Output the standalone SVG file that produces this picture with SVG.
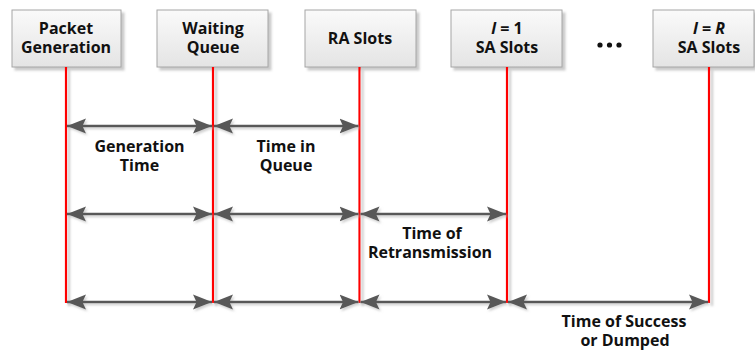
<svg xmlns="http://www.w3.org/2000/svg" width="755" height="351" viewBox="0 0 755 351">
<defs>
<linearGradient id="bg" x1="0" y1="0" x2="0" y2="1">
<stop offset="0" stop-color="#fafafa"/>
<stop offset="1" stop-color="#e4e4e4"/>
</linearGradient>
<filter id="sh" x="-10%" y="-10%" width="130%" height="130%">
<feDropShadow dx="3" dy="3" stdDeviation="0.8" flood-color="#bdbdbd" flood-opacity="0.8"/>
</filter>
<filter id="ash" x="-10%" y="-50%" width="130%" height="300%">
<feDropShadow dx="1.5" dy="2" stdDeviation="1" flood-color="#b0b0b0" flood-opacity="0.6"/>
</filter>
<marker id="ah" viewBox="0 -8 20 16" refX="19" refY="0" markerWidth="20" markerHeight="16" markerUnits="userSpaceOnUse" orient="auto-start-reverse">
<path d="M19,0 L0,-7.5 L3.5,0 L0,7.5 z" fill="#595959"/>
</marker>
</defs>
<style>
.box{fill:url(#bg);stroke:#a6a6a6;stroke-width:1;filter:url(#sh)}
.t{font-family:"Open Sans","Liberation Sans",sans-serif;font-weight:700;font-size:16px;fill:#111;text-anchor:middle}
.red{stroke:#ff0000;stroke-width:2.2;fill:none}
.arr{stroke:#595959;stroke-width:2.5;fill:none;marker-start:url(#ah);marker-end:url(#ah)}
</style>
<g id="node-packet-generation">
<rect class="box" x="12" y="10" width="109" height="57"/>
<text class="t" x="66" y="34">Packet</text>
<text class="t" x="66" y="53">Generation</text>
</g>
<g id="node-waiting-queue">
<rect class="box" x="157" y="10" width="111" height="57"/>
<text class="t" x="213" y="34">Waiting</text>
<text class="t" x="213" y="53">Queue</text>
</g>
<g id="node-ra-slots">
<rect class="box" x="305" y="10" width="111" height="57"/>
<text class="t" x="360" y="44">RA Slots</text>
</g>
<g id="node-sa1">
<rect class="box" x="451" y="10" width="111" height="57"/>
<text class="t" x="507" y="34"><tspan font-style="italic">l</tspan> = 1</text>
<text class="t" x="507" y="53">SA Slots</text>
</g>
<g id="dots">
<circle cx="600" cy="45" r="2.6" fill="#111"/>
<circle cx="609.5" cy="45" r="2.6" fill="#111"/>
<circle cx="619" cy="45" r="2.6" fill="#111"/>
</g>
<g id="node-saR">
<rect class="box" x="653" y="10" width="101" height="57"/>
<text class="t" x="709" y="34"><tspan font-style="italic">l</tspan> = <tspan font-style="italic">R</tspan></text>
<text class="t" x="709" y="53">SA Slots</text>
</g>
<g id="connectors">
<g filter="url(#sh)">
<line class="red" x1="66" y1="67" x2="66" y2="303"/>
<line class="red" x1="213" y1="67" x2="213" y2="303"/>
<line class="red" x1="359.5" y1="67" x2="359.5" y2="303"/>
<line class="red" x1="507" y1="67" x2="507" y2="303"/>
<line class="red" x1="709" y1="67" x2="709" y2="303"/>
</g>
<g filter="url(#ash)">
<line class="arr" x1="67" y1="126" x2="212" y2="126"/>
<line class="arr" x1="214" y1="126" x2="358.5" y2="126"/>
<line class="arr" x1="67" y1="214" x2="212" y2="214"/>
<line class="arr" x1="214" y1="214" x2="358.5" y2="214"/>
<line class="arr" x1="360.5" y1="214" x2="506" y2="214"/>
<line class="arr" x1="67" y1="302" x2="212" y2="302"/>
<line class="arr" x1="214" y1="302" x2="358.5" y2="302"/>
<line class="arr" x1="360.5" y1="302" x2="506" y2="302"/>
<line class="arr" x1="508" y1="302" x2="708" y2="302"/>
</g>
</g>
<g id="labels">
<text class="t" x="139.5" y="152">Generation</text>
<text class="t" x="139.5" y="171">Time</text>
<text class="t" x="286" y="152">Time in</text>
<text class="t" x="286" y="171">Queue</text>
<text class="t" x="432" y="239">Time of</text>
<text class="t" x="430" y="258">Retransmission</text>
<text class="t" x="624" y="327">Time of Success</text>
<text class="t" x="625" y="346">or Dumped</text>
</g>
</svg>
